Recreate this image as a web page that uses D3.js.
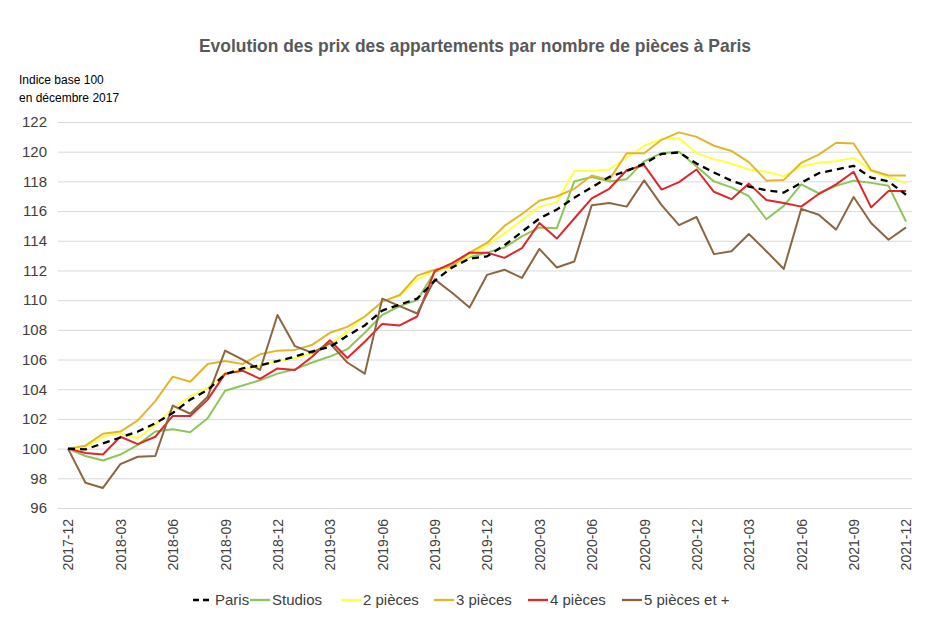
<!DOCTYPE html>
<html><head><meta charset="utf-8">
<script src="https://cdn.jsdelivr.net/npm/d3@7"></script>
<style>
body{margin:0;background:#fff;}
svg{display:block;}
</style></head>
<body>
<svg id="c" width="937" height="624"></svg>
<script>
const months = ["2017-12","2018-01","2018-02","2018-03","2018-04","2018-05","2018-06","2018-07","2018-08","2018-09","2018-10","2018-11","2018-12",
"2019-01","2019-02","2019-03","2019-04","2019-05","2019-06","2019-07","2019-08","2019-09","2019-10","2019-11","2019-12",
"2020-01","2020-02","2020-03","2020-04","2020-05","2020-06","2020-07","2020-08","2020-09","2020-10","2020-11","2020-12",
"2021-01","2021-02","2021-03","2021-04","2021-05","2021-06","2021-07","2021-08","2021-09","2021-10","2021-11","2021-12"];
const xTickLabels = ["2017-12","2018-03","2018-06","2018-09","2018-12","2019-03","2019-06","2019-09","2019-12","2020-03","2020-06","2020-09","2020-12","2021-03","2021-06","2021-09","2021-12"];
const yTicks = [96,98,100,102,104,106,108,110,112,114,116,118,120,122];

const paris = [100,99.95,100.35,100.75,101.15,101.7,102.4,103.3,103.95,105.0,105.4,105.6,105.9,106.2,106.55,106.85,107.6,108.3,109.3,109.7,110.1,111.3,112.2,112.8,112.95,
113.7,114.6,115.5,116.1,116.9,117.6,118.3,118.7,119.2,119.85,119.95,119.2,118.6,118.05,117.65,117.4,117.25,117.9,118.55,118.8,119.05,118.25,118.0,117.1];
const studios = [100,99.5,99.2,99.6,100.25,101.15,101.3,101.1,102.05,103.9,104.25,104.6,105.05,105.35,105.8,106.2,106.7,107.8,109.0,109.6,110.0,111.9,112.35,112.9,113.2,
113.55,114.3,114.9,114.85,118.0,118.3,118.0,118.15,119.35,119.9,120.0,119.0,118.0,117.6,117.0,115.45,116.35,117.8,117.2,117.7,118.05,117.9,117.7,115.3];
const p2 = [100,100.1,100.8,101.05,100.7,101.6,102.7,103.5,104.1,105.1,105.3,105.6,105.9,106.1,106.4,107.0,107.9,108.9,109.9,110.3,111.4,112.0,112.2,113.0,113.7,
114.5,115.4,116.3,116.6,118.7,118.7,118.8,119.6,120.4,120.85,120.9,119.9,119.5,119.2,118.8,118.65,118.35,119.0,119.25,119.35,119.6,118.7,118.3,117.9];
const p3 = [100,100.2,101.0,101.15,101.9,103.2,104.85,104.5,105.7,105.9,105.7,106.35,106.6,106.65,107.0,107.8,108.2,108.9,109.9,110.35,111.65,112.05,112.3,113.2,113.85,
115.0,115.8,116.7,117.0,117.5,118.4,118.1,119.9,119.9,120.8,121.3,121.0,120.4,120.05,119.3,118.05,118.1,119.25,119.8,120.6,120.55,118.75,118.4,118.4];
const p4 = [100,99.7,99.6,100.8,100.3,100.8,102.2,102.2,103.3,105.05,105.25,104.7,105.4,105.3,106.2,107.3,106.1,107.2,108.4,108.3,108.9,111.95,112.5,113.2,113.2,
112.85,113.5,115.2,114.15,115.5,116.85,117.5,118.75,119.1,117.45,117.95,118.8,117.3,116.8,117.85,116.75,116.55,116.3,117.15,117.8,118.65,116.25,117.35,117.35];
const p5 = [100,97.7,97.35,98.95,99.45,99.5,102.9,102.35,103.5,106.6,106.0,105.3,109.0,106.9,106.45,107.1,105.8,105.05,110.1,109.6,109.1,111.4,110.5,109.5,111.7,
112.05,111.5,113.45,112.2,112.6,116.4,116.55,116.3,118.07,116.4,115.05,115.6,113.1,113.3,114.45,113.3,112.1,116.15,115.75,114.75,116.95,115.2,114.07,114.9];

const seriesNames = ["Paris","Studios","2 pièces","3 pièces","4 pièces","5 pièces et +"];
const seriesValues = [paris, studios, p2, p3, p4, p5];
const seriesColors = ["#000000","#8CC65A","#FFFF44","#E2B62C","#E0262A","#8B6640"];

const svg = d3.select("#c");
const font = "'Liberation Sans',Arial,sans-serif";

const x = d3.scalePoint().domain(months).range([68, 906]);
const y = d3.scaleLinear().domain([96, 122]).range([508, 122]);

// gridlines + y labels
const yAxis = d3.axisLeft(y).tickValues(yTicks).tickSize(-(912-58)).tickPadding(10).tickFormat(d3.format("d"));
const gy = svg.append("g").attr("transform","translate(58,0)").call(yAxis);
gy.select(".domain").remove();
gy.selectAll(".tick line").attr("stroke","#d9d9d9").attr("stroke-width",1);
gy.selectAll(".tick text").attr("font-family",font).attr("font-size",15).attr("fill","#404040").attr("x",-11);

// x labels
const xAxis = d3.axisBottom(x).tickValues(xTickLabels).tickSize(0).tickPadding(0);
const gx = svg.append("g").attr("transform","translate(0,516)").call(xAxis);
gx.select(".domain").remove();
gx.selectAll(".tick text")
  .attr("font-family",font).attr("font-size",14).attr("fill","#404040")
  .attr("transform","rotate(-90)").attr("text-anchor","end").attr("dy","0.35em").attr("x",-3).attr("y",0);

// lines
const line = d3.line().x((d,i)=>x(months[i])).y(d=>y(d));
const order = [1,2,3,4,5,0];
order.forEach(k=>{
  svg.append("path").datum(seriesValues[k])
    .attr("d",line).attr("fill","none")
    .attr("stroke",seriesColors[k]).attr("stroke-width", k===0?2.3:2)
    .attr("stroke-dasharray", k===0?"7,5":null)
    .attr("stroke-linejoin","round");
});

// title
svg.append("text").attr("x",475).attr("y",52).attr("text-anchor","middle")
  .attr("font-family",font).attr("font-weight","bold").attr("font-size",19).attr("fill","#595959")
  .attr("textLength",552).attr("lengthAdjust","spacingAndGlyphs")
  .text("Evolution des prix des appartements par nombre de pièces à Paris");

// y-axis title
svg.append("text").attr("x",19).attr("y",84).attr("font-family",font).attr("font-size",12).attr("fill","#000")
  .text("Indice base 100");
svg.append("text").attr("x",19).attr("y",102).attr("font-family",font).attr("font-size",12).attr("fill","#000")
  .text("en décembre 2017");

// legend
const legendX = [193, 250, 341, 434, 528, 622];
const lg = svg.append("g").attr("transform","translate(0,600)");
seriesNames.forEach((n,k)=>{
  lg.append("line").attr("x1",legendX[k]).attr("x2",legendX[k]+20).attr("y1",0).attr("y2",0)
    .attr("stroke",seriesColors[k]).attr("stroke-width",2.3).attr("stroke-dasharray",k===0?"6,4":null);
  lg.append("text").attr("x",legendX[k]+22).attr("y",0).attr("dy","0.35em")
    .attr("font-family",font).attr("font-size",15).attr("fill","#404040").text(n);
});
</script>
</body></html>
